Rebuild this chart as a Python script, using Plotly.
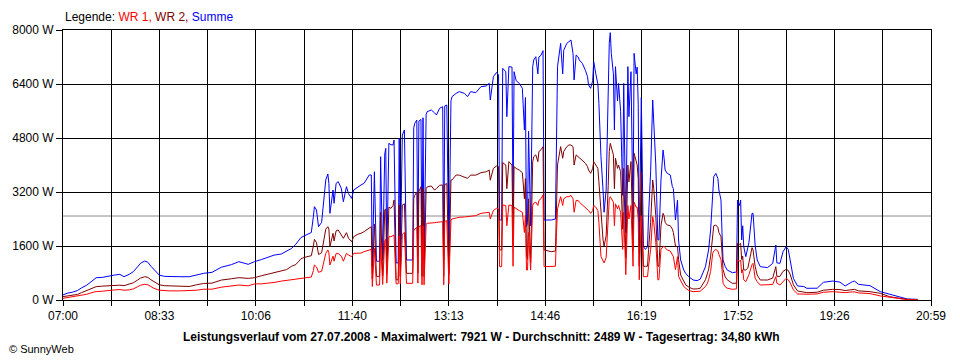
import plotly.graph_objects as go

zeit = ["07:00","07:04","07:09","07:14","07:18","07:23","07:28","07:32","07:38","07:45","07:50","07:55","07:59",
"08:04","08:08","08:12","08:15","08:19","08:22","08:25","08:28","08:33","08:38","08:43","08:53","09:02","09:09",
"09:16","09:24","09:33","09:43","09:50","09:59","10:05","10:12","10:19","10:24","10:31","10:36","10:41","10:45",
"10:48","10:50","10:53","10:58","11:00","11:02","11:03","11:05","11:07","11:10","11:12","11:14","11:16","11:17",
"11:18","11:21","11:22","11:24","11:26","11:29","11:31","11:34","11:36","11:39","11:41","11:45","11:48","11:51",
"11:56","11:58","11:59","12:01","12:03","12:06","12:07","12:09","12:11","12:12","12:13","12:15","12:17","12:19",
"12:20","12:22","12:24","12:25","12:26","12:28","12:30","12:32","12:38","12:39","12:40","12:42","12:43","12:44",
"12:46","12:47","12:48","12:49","12:51","12:52","12:56","12:59","13:01","13:04","13:07","13:08","13:09","13:11",
"13:13","13:15","13:16","13:20","13:23","13:28","13:31","13:34","13:39","13:44","13:49","13:52","13:53","13:56",
"13:59","14:01","14:02","14:04","14:05","14:08","14:09","14:11","14:14","14:15","14:16","14:18","14:21","14:24",
"14:26","14:27","14:28","14:29","14:30","14:32","14:34","14:35","14:37","14:39","14:40","14:42","14:44","14:45",
"14:52","14:56","14:57","14:58","15:01","15:03","15:04","15:07","15:09","15:11","15:13","15:14","15:16","15:18",
"15:19","15:22","15:25","15:27","15:28","15:30","15:32","15:33","15:35","15:37","15:38","15:40","15:42","15:43",
"15:45","15:47","15:48","15:49","15:50","15:52","15:53","15:54","15:56","15:57","15:59","16:01","16:02","16:04",
"16:06","16:07","16:09","16:11","16:12","16:14","16:15","16:16","16:17","16:19","16:21","16:23","16:25","16:26",
"16:28","16:30","16:31","16:33","16:35","16:36","16:38","16:40","16:41","16:42","16:44","16:47","16:49","16:50",
"16:52","16:54","16:55","16:57","17:00","17:02","17:05","17:09","17:13","17:16","17:21","17:23","17:24","17:26",
"17:28","17:29","17:31","17:33","17:34","17:36","17:37","17:38","17:40","17:42","17:47","17:51","17:52","17:54",
"17:55","17:56","17:57","17:58","18:00","18:02","18:03","18:06","18:07","18:09","18:11","18:14","18:21","18:26",
"18:29","18:30","18:33","18:36","18:39","18:41","18:43","18:46","18:50","18:56","18:59","19:09","19:15","19:24",
"19:31","19:36","19:43","19:45","19:49","20:00","20:10","20:19","20:29","20:36","20:46"]

summe = [150,200,230,280,360,440,560,660,670,720,740,760,690,
760,840,980,1090,1155,1120,1000,890,740,700,690,690,690,740,
790,820,970,1050,1136,1057,1136,1200,1264,1330,1363,1450,1530,1650,
1780,1850,1896,1975,2000,2469,2765,2667,2173,2300,3062,3556,3733,3457,
2568,3259,2865,3457,3506,3309,2914,3358,3150,3012,3259,3358,3407,3457,
3704,3704,1000,3800,1150,1150,4246,1200,4326,4494,1300,4642,4600,4593,
4741,1100,1100,4790,1200,4889,5037,1185,1185,5100,5235,5333,1300,5300,
5350,1200,5400,1200,5500,5580,5630,5550,5482,5679,5728,1200,5750,5778,
1300,5900,6025,6123,6173,6123,6025,6173,6143,6321,6341,6420,5926,6617,
6741,6667,2370,2370,6864,6765,5432,6914,6900,2568,6765,6500,6420,6272,
5037,6000,2173,2300,5000,2200,6914,7111,7210,6700,7200,7250,7388,2370,
2370,2400,5000,6914,7605,6700,7400,7605,7654,7704,7300,6519,7259,7200,
7111,7012,6800,6617,6370,6272,6500,7062,6700,6400,5827,4246,3259,2600,
3259,6025,7605,7921,7300,6700,5037,6914,5900,6420,5580,3100,6420,2000,
6914,5432,6765,2400,7309,6700,6900,5800,1580,6000,1580,1500,1580,2500,
3800,5926,5400,4000,1780,1780,3556,4444,4200,3852,3753,3704,3358,3300,
2370,2963,1778,1185,889,780,691,593,573,620,988,1300,1482,2074,
3259,3655,3753,3600,3259,2963,1975,1185,1000,889,810,830,2963,2800,
2963,1778,2200,1580,1284,1580,1700,2568,2568,1630,1185,988,960,1086,
1630,1100,1086,1432,1580,1500,1185,642,415,400,346,350,524,563,
530,415,543,560,464,425,247,178,99,30,20]

wr2 = [100,120,135,165,220,275,340,395,410,425,430,440,425,
460,510,590,650,690,670,600,545,450,425,420,420,400,450,
490,500,590,630,662,640,660,720,770,810,850,900,1000,1050,
1150,1220,1260,1310,1313,1600,1797,1700,1350,1400,1778,2100,2173,2100,
1580,1975,1750,2050,2074,1900,1827,1995,1827,1728,1876,1950,1975,2025,
2150,2173,620,2250,700,700,2600,720,2667,2700,780,2750,2716,2800,
2963,600,600,2815,700,2815,2850,790,790,3012,3100,3200,800,3210,
3358,700,3300,700,3300,3350,3380,3259,3300,3400,3407,700,3420,3450,
750,3550,3556,3704,3700,3650,3605,3700,3700,3772,3800,3850,3550,3900,
3970,3950,1482,1482,4069,4000,3300,4100,4000,1600,3950,3900,3850,3772,
3000,3600,1300,1200,3000,1096,4100,4246,4300,4100,4400,4450,4543,1482,
1432,1450,3000,4000,4543,4200,4400,4543,4593,4593,4543,4000,4300,4250,
4200,4148,4050,3950,3850,3753,3900,4100,4000,3900,3500,2500,1778,1600,
1900,3400,4400,4642,4500,4300,3300,4200,3900,4000,3800,2100,3900,1250,
4000,3500,4100,1500,4346,4100,4000,3600,1000,3800,1000,1000,1000,1500,
2300,3556,3300,2500,1000,1000,2200,2568,2500,2300,2222,2200,2100,2000,
1600,1580,1200,741,550,444,380,326,330,350,600,800,900,1300,
2074,2200,2222,2150,2000,1876,1400,900,691,600,494,500,1679,1650,
1679,1200,1300,889,889,950,1100,1550,1482,1000,741,593,593,650,
988,700,700,850,908,880,750,450,267,240,217,230,290,316,
310,280,316,316,270,247,198,99,49,20,10]

wr1 = [50,70,90,110,140,170,220,250,260,295,300,310,290,
300,330,390,440,465,450,400,345,290,275,270,270,270,290,
320,320,380,420,444,420,476,480,494,520,560,580,600,620,
630,642,650,662,680,870,1037,980,820,850,1100,1380,1482,1400,
1037,1300,1150,1380,1380,1300,1150,1383,1333,1284,1383,1383,1390,1432,
1480,1500,400,1530,444,444,1700,460,1750,1800,500,1876,1876,1900,
1926,480,480,1900,480,1950,2000,494,494,2050,2100,2150,500,2173,
2200,450,2200,450,2250,2272,2272,2290,2300,2320,2321,450,2330,2350,
480,2370,2400,2430,2450,2460,2469,2480,2500,2568,2580,2600,2400,2650,
2716,2700,988,988,2815,2800,2200,2815,2800,1000,2750,2700,2650,2600,
2000,2500,889,889,2000,889,2800,2865,2900,2800,2950,3000,3111,988,
988,1000,2000,2700,3062,2800,3000,3062,3062,3100,3000,2600,2950,2950,
2900,2815,2750,2700,2650,2568,2650,2800,2750,2650,2300,1284,1136,1100,
1250,2300,3000,3062,3000,2900,2200,2850,2700,2800,2600,1500,2600,750,
2800,2400,2800,1000,2900,2750,2750,2400,600,2500,691,691,691,1000,
1500,2469,2300,1700,600,600,1500,1580,1600,1550,1482,1450,1300,1284,
900,1284,700,593,400,346,280,247,247,260,400,500,600,850,
1383,1450,1501,1450,1350,1200,900,500,395,350,316,330,1185,1150,
1185,800,900,600,543,700,750,1050,1086,650,543,444,444,460,
691,500,444,550,642,600,500,300,178,175,170,180,230,247,
240,220,240,240,210,190,120,80,40,10,5]

x_labels = ["07:00","08:33","10:06","11:40","13:13","14:46","16:19","17:52","19:26","20:59"]
y_ticks = [0, 1600, 3200, 4800, 6400, 8000]
durchschnitt = 2489


def to_min(s):
    h, m = s.split(":")
    return int(h) * 60 + int(m)


x = [to_min(t) for t in zeit]
t0, t1 = to_min(x_labels[0]), to_min(x_labels[-1])
n = 2 * (len(x_labels) - 1)
tickvals = [t0 + (t1 - t0) * k / n for k in range(n + 1)]
ticktext = [x_labels[k // 2] if k % 2 == 0 else "" for k in range(n + 1)]

FONT = "Arial, Liberation Sans, sans-serif"

fig = go.Figure()
fig.add_trace(go.Scatter(x=x, y=summe, mode="lines", name="Summe",
                         line=dict(color="#0000FF", width=1)))
fig.add_trace(go.Scatter(x=x, y=wr2, mode="lines", name="WR 2",
                         line=dict(color="#800000", width=1)))
fig.add_trace(go.Scatter(x=x, y=wr1, mode="lines", name="WR 1",
                         line=dict(color="#FF0000", width=1)))

fig.add_shape(type="line", xref="paper", x0=0, x1=1, yref="y",
              y0=durchschnitt, y1=durchschnitt,
              line=dict(color="#8C8C8C", width=1), layer="below")

fig.update_layout(
    width=960, height=360,
    margin=dict(l=61, r=29, t=30, b=60),
    plot_bgcolor="white", paper_bgcolor="white",
    showlegend=False,
    font=dict(family=FONT, size=12, color="black"),
    xaxis=dict(range=[t0, t1], tickvals=tickvals, ticktext=ticktext,
               showgrid=True, gridcolor="black", gridwidth=1,
               ticks="outside", ticklen=5, tickcolor="black",
               showline=True, linecolor="black", mirror=True,
               zeroline=False, tickfont=dict(size=12)),
    yaxis=dict(range=[0, 8000], tickvals=y_ticks,
               ticktext=[f"{v} W" for v in y_ticks],
               showgrid=True, gridcolor="black", gridwidth=1,
               ticks="outside", ticklen=6, tickcolor="black",
               showline=True, linecolor="black", mirror=True,
               zeroline=False, tickfont=dict(size=12)),
    annotations=[
        dict(xref="paper", yref="paper", x=0, y=1.048, xanchor="left", yanchor="middle",
             showarrow=False, font=dict(size=12),
             text="Legende: <span style='color:#FF0000'>WR 1,</span> "
                  "<span style='color:#800000'>WR 2,</span> "
                  "<span style='color:#0000FF'>Summe</span>"),
        dict(xref="paper", yref="paper", x=0.4816, y=-0.137, xanchor="center", yanchor="middle",
             showarrow=False, font=dict(size=12),
             text="<b>Leistungsverlauf vom 27.07.2008 - Maximalwert: 7921 W - "
                  "Durchschnitt: 2489 W - Tagesertrag: 34,80 kWh</b>"),
        dict(xref="paper", yref="paper", x=-0.0644, y=-0.181, xanchor="left", yanchor="middle",
             showarrow=False, font=dict(size=11), text="© SunnyWeb"),
    ],
)

fig.write_html("out.html",
               config={"displayModeBar": False},
               post_script="document.body.style.margin='0';document.body.style.overflow='hidden';")
